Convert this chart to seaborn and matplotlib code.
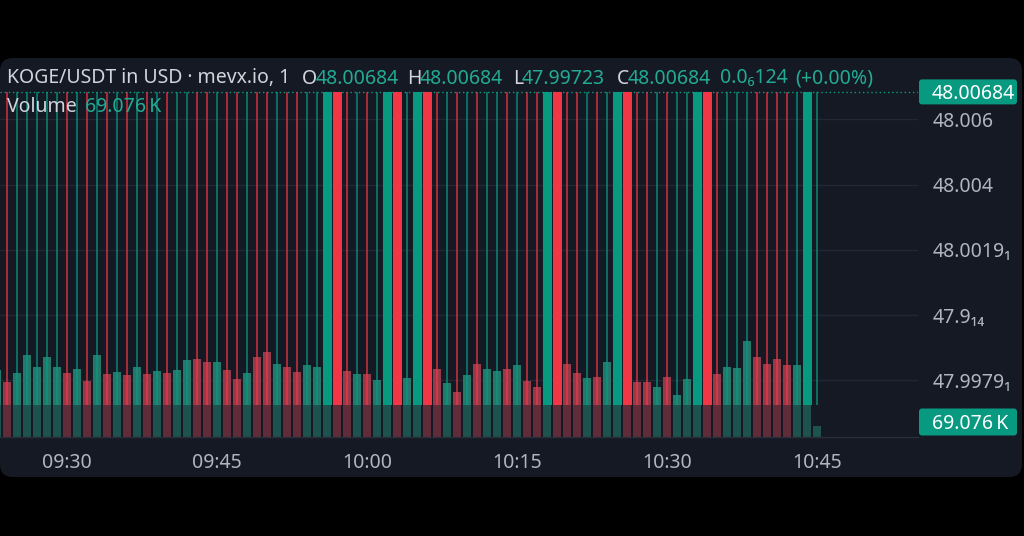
import numpy as np
import pandas as pd
import seaborn as sns
import matplotlib.pyplot as plt
from matplotlib.patches import FancyBboxPatch
from matplotlib.transforms import IdentityTransform, blended_transform_factory

# one candle per minute, 09:23 (cut off at the left edge) to 10:45
times = pd.date_range("2024-01-01 09:23", "2024-01-01 10:45", freq="1min").strftime("%H:%M").tolist()

# u/d = thin doji (wick only), U/D = full body candle
candle = ("u"
          "duuuuududu" "dudududuud" "dudduddudd" "uuUDduduUD"
          "uUDdududuu" "duddUDddud" "uUDdduduuU" "Dduuuddddu" "Uu")

# volume in thousands (bars hidden behind full bodies are rough guesses)
volume = [421,
          347, 402, 515, 442, 504, 440, 404, 427, 354, 515,
          396, 408, 389, 442, 396, 414, 402, 421, 484, 490,
          471, 473, 421, 364, 404, 504, 532, 457, 438, 408,
          450, 438, 480, 460, 416, 396, 396, 358, 430, 450,
          369, 440, 470, 425, 337, 284, 389, 457, 425, 414,
          427, 450, 354, 316, 450, 420, 457, 400, 369, 379,
          469, 440, 460, 344, 344, 312, 379, 264, 364, 430,
          450, 396, 438, 433, 605, 504, 458, 488, 450, 450,
          460, 69.076]

high = 48.00684
low = 47.99723
last_close = 48.00684

price_ticks = [48.006, 48.004, 48.002, 48.000, 47.998]
price_labels = ["48.006", "48.004", "48.0019\u2081", "47.9\u2081\u2084", "47.9979\u2081"]
time_ticks = ["09:30", "09:45", "10:00", "10:15", "10:30", "10:45"]

BG = "#151924"
GRID = "#232733"
TXT = "#b2b5be"
HEAD = "#d1d4dc"
GREEN = "#089981"
RED = "#f23645"
GTXT = "#22ab94"
VOL_UP = "#23786a"
VOL_DN = "#953a49"

sns.set_theme(style="dark")
plt.rcParams["font.family"] = ["Noto Sans", "DejaVu Sans"]

W, H = 1024, 536
fig = plt.figure(figsize=(W / 100, H / 100), dpi=100, facecolor="black")
px = IdentityTransform()

panel = FancyBboxPatch((0, H - 477), 1022, 477 - 58, boxstyle="round,pad=0,rounding_size=13",
                       transform=px, fc=BG, ec="none", zorder=-5)
fig.add_artist(panel)

axv = fig.add_axes([0, (H - 437) / H, 918 / W, 379 / H])
axv.set_facecolor("none")
ax = axv.twinx()

df = pd.DataFrame({
    "idx": np.arange(len(times)),
    "time": times,
    "volume": volume,
    "side": ["up" if c in "uU" else "down" for c in candle],
})

sns.barplot(data=df, x="idx", y="volume", hue="side", palette={"up": VOL_UP, "down": VOL_DN},
            native_scale=True, dodge=False, width=0.86, saturation=1, linewidth=0,
            errorbar=None, legend=False, ax=axv, zorder=2)

# price grid lines, drawn under the volume bars
gt = blended_transform_factory(axv.transAxes, ax.transData)
for p in price_ticks:
    axv.plot([0, 1], [p, p], transform=gt, color=GRID, lw=1, zorder=0)

axv.set_ylim(0, 2380)
axv.set_xlim(0.3, 92.1)
axv.set_yticks([])
axv.set_xlabel("")
axv.set_ylabel("")
tick_pos = [times.index(t) for t in time_ticks]
axv.set_xticks(tick_pos)
axv.set_xticklabels(time_ticks)
axv.tick_params(axis="x", length=0, pad=11.5, labelcolor=TXT, labelsize=14)
for s in ["top", "left", "right"]:
    axv.spines[s].set_visible(False)
axv.spines["bottom"].set_color("#2a2e39")
axv.spines["bottom"].set_linewidth(1)

# candles
idx = df["idx"].to_numpy()
up = np.array([c in "uU" for c in candle])
full = np.array([c in "UD" for c in candle])
opens = np.where(full, np.where(up, low, high), high)
closes = np.where(full, np.where(up, high, low), high)

ax.axhspan(47.99, low, color=BG, alpha=0.4, lw=0, zorder=1)
ax.vlines(idx, low, high, colors=np.where(up, GREEN, RED), lw=1.1, alpha=0.85, zorder=3)
ax.bar(idx, np.abs(closes - opens), bottom=np.minimum(opens, closes), width=0.9,
       color=np.where(up, GREEN, RED), lw=0, zorder=4)
ax.axhline(last_close, color=GREEN, lw=1, ls=(0, (1, 2)), zorder=2)

ax.set_ylim(47.996262, 48.007879)
ax.set_yticks(price_ticks)
ax.set_yticklabels(price_labels)
ax.tick_params(axis="y", length=0, pad=10.8, labelcolor=TXT, labelsize=14)
ax.grid(False)
for s in ax.spines.values():
    s.set_visible(False)

# header legend
def head(x, ytop, s, color):
    fig.text(x, H - ytop - 7, s, transform=px, color=color, fontsize=14, va="baseline", ha="left")

head(7, 76.5, "KOGE/USDT in USD \u00b7 mevx.io, 1", HEAD)
head(302, 76.5, "O", HEAD)
head(316, 76.5, "48.00684", GTXT)
head(407, 76.5, "H", HEAD)
head(420, 76.5, "48.00684", GTXT)
head(513, 76.5, "L", HEAD)
head(522, 76.5, "47.99723", GTXT)
head(617, 76.5, "C", HEAD)
head(628, 76.5, "48.00684", GTXT)
head(720, 76.5, "0.0\u2086124", GTXT)
head(795, 76.5, "(+0.00%)", GTXT)
head(7, 105, "Volume", HEAD)
head(85, 105, "69.076\u2009K", GTXT)

# value tags on the price scale
def tag(yc, s, h):
    fig.add_artist(FancyBboxPatch((919, yc - h / 2), 98, h, boxstyle="round,pad=0,rounding_size=3",
                                  transform=px, fc=GREEN, ec="none", zorder=5))
    fig.text(932, yc - 7, s, transform=px, color="white", fontsize=14, va="baseline", ha="left", zorder=6)

y_price = ax.transData.transform((0, last_close))[1]
tag(y_price, "48.00684", 25)
y_vol = axv.transData.transform((0, volume[-1]))[1]
y_bot = axv.transData.transform((0, 0))[1]
tag(max(y_vol, y_bot + 15), "69.076\u2009K", 27)

fig.savefig("out.png", dpi=100, facecolor="black")
